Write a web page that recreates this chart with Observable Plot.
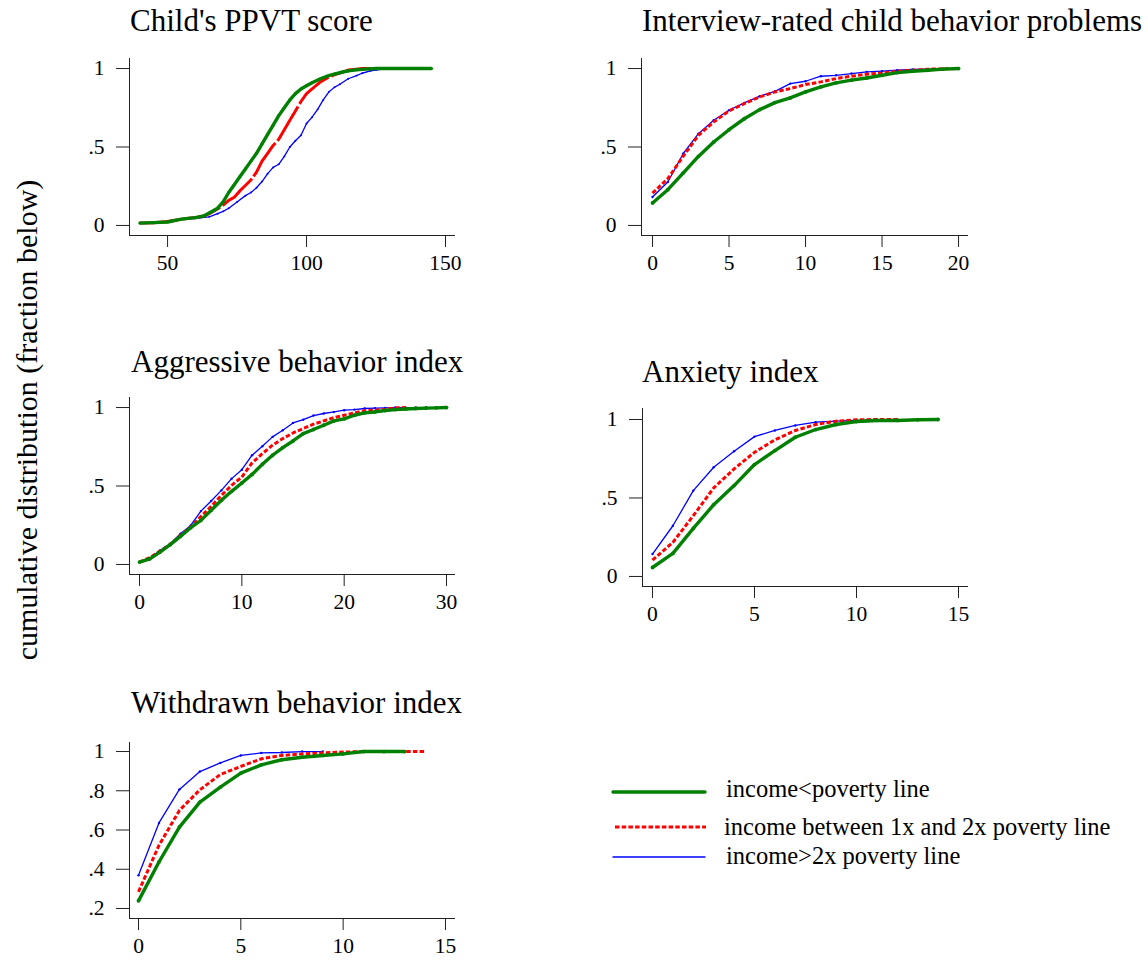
<!DOCTYPE html>
<html>
<head>
<meta charset="utf-8">
<script src="https://cdn.jsdelivr.net/npm/d3@7"></script>
<script src="https://cdn.jsdelivr.net/npm/@observablehq/plot@0.6"></script>
<style>
  html, body { margin: 0; padding: 0; background: #fff; }
  #root { position: relative; width: 1148px; height: 960px; overflow: hidden; background: #fff;
          font-family: "Liberation Serif", "Times New Roman", serif; }
  .panel { position: absolute; }
  .panel svg { overflow: visible; background: transparent; }
  #overlay { position: absolute; left: 0; top: 0; }
</style>
</head>
<body>
<div id="root"></div>
<script>
// ---------------- DATA ----------------
const seriesNames = ["income<poverty line", "income between 1x and 2x poverty line", "income>2x poverty line"];

// Child's PPVT score
const ppvtPoorX = [40,45,50,55,60,63,65,68,70,72,74,76,78,80,82,84,86,88,90,92,94,96,98,100,102,105,108,110,113,115,118,120,125,130,135,140,145];
const ppvtPoorY = [.015,.018,.022,.04,.05,.06,.08,.11,.15,.21,.26,.31,.36,.41,.46,.52,.58,.64,.70,.75,.80,.84,.87,.89,.91,.935,.955,.965,.978,.985,.992,.995,1,1,1,1,1];
const ppvtMidX = [40,45,50,55,60,63,65,68,70,72,74,76,78,80,82,84,86,88,90,92,94,96,98,100,102,105,108,110,113,115,118,120,125,130];
const ppvtMidY = [.015,.018,.025,.04,.05,.06,.075,.105,.13,.16,.18,.22,.255,.29,.34,.41,.46,.51,.55,.61,.67,.73,.79,.84,.87,.915,.945,.96,.977,.99,.996,1,1,1];
const ppvtHighX = [45,50,55,60,65,68,70,72,75,78,80,82,84,86,88,90,92,94,96,98,100,102,104,106,108,110,112,115,118,120,123,125,128,130,133];
const ppvtHighY = [.02,.025,.04,.045,.055,.075,.09,.11,.15,.19,.21,.24,.28,.33,.37,.39,.44,.50,.54,.575,.65,.69,.74,.80,.85,.88,.90,.935,.955,.97,.985,.99,.998,1,1];

// Interview-rated child behavior problems
const probX = [0,1,2,3,4,5,6,7,8,9,10,11,12,13,14,15,16,17,18,19,20];
const probPoorY = [.143,.228,.334,.44,.532,.61,.68,.738,.783,.813,.851,.883,.909,.926,.94,.957,.974,.983,.989,.996,1];
const probMidY  = [.206,.298,.44,.574,.66,.73,.777,.819,.851,.872,.898,.915,.936,.951,.964,.972,.983,.989,.996,.998,1];
const probHighY = [.181,.277,.457,.585,.67,.734,.781,.823,.855,.904,.919,.951,.957,.968,.979,.983,.989,.994,.996,.998,1];

// Aggressive behavior index
const aggPoorX = [0,1,2,3,4,5,6,7,8,9,10,11,12,13,14,15,16,17,18,19,20,21,22,23,24,25,26,27,28,29,30];
const aggPoorY = [.015,.036,.079,.126,.179,.234,.281,.345,.409,.466,.519,.574,.638,.696,.745,.787,.834,.86,.887,.915,.928,.951,.966,.972,.981,.987,.991,.994,.996,.998,1];
const aggMidX = [0,1,2,3,4,5,6,7,8,9,10,11,12,13,14,15,16,17,18,19,20,21,22,23,24,25,26];
const aggMidY = [.015,.043,.085,.128,.185,.238,.306,.37,.44,.504,.557,.647,.706,.76,.802,.838,.866,.894,.915,.936,.951,.966,.979,.983,.989,.998,1];
const aggHighX = [0,1,2,3,4,5,6,7,8,9,10,11,12,13,14,15,16,17,18,19,20,21,22,23,24,25,26,27,28];
const aggHighY = [.015,.04,.089,.132,.196,.249,.34,.404,.472,.547,.604,.696,.753,.813,.855,.902,.923,.949,.962,.972,.983,.987,.994,.996,.998,1,1,1,1];

// Anxiety index
const anxPoorX = [0,1,2,3,4,5,6,7,8,9,10,11,12,13,14];
const anxPoorY = [.057,.147,.306,.457,.579,.713,.802,.887,.936,.968,.987,.994,.994,.998,1];
const anxMidX = [0,1,2,3,4,5,6,7,8,9,10,11,12];
const anxMidY = [.104,.217,.387,.564,.685,.791,.87,.93,.968,.989,.998,1,1];
const anxHighX = [0,1,2,3,4,5,6,7,8,9,10,11,12];
const anxHighY = [.143,.323,.547,.696,.798,.891,.93,.962,.983,.989,.994,.998,1];

// Withdrawn behavior index
const wdPoorX = [0,1,2,3,4,5,6,7,8,9,10,11,12,13];
const wdPoorY = [.239,.437,.615,.742,.819,.89,.932,.958,.971,.98,.988,1,1,1];
const wdMidX = [0,1,2,3,4,5,6,7,8,9,10,11,12,13,14];
const wdMidY = [.285,.522,.70,.805,.883,.924,.963,.98,.988,.993,.997,1,1,1,1];
const wdHighX = [0,1,2,3,4,5,6,7,8,9];
const wdHighY = [.369,.636,.807,.898,.942,.98,.993,.995,1,1];

// tick labels
const ppvtXTicks = [50,100,150];
const probXTicks = [0,5,10,15,20];
const aggXTicks = [0,10,20,30];
const anxXTicks = [0,5,10,15];
const wdXTicks = [0,5,10,15];
const yTicks01 = [0,.5,1];
const yTicksWd = [.2,.4,.6,.8,1];

// ---------------- STYLES / LAYOUT ----------------
const styles = {
  poor: {stroke: "#008000", strokeWidth: 3.4, dash: null, r: 1.9},
  mid:  {stroke: "#ff0000", strokeWidth: 3, dash: "4.5,2.2", r: 0},
  high: {stroke: "#0000ff", strokeWidth: 1.3, dash: null, r: 1.2}
};

const panels = [
  {title: "Child's PPVT score", tx: 130, ty: 31,
   frame: {left: 129, top: 58, width: 326, height: 177},
   xd: [36.3, 153.6], yd: [-0.064, 1.064], xt: ppvtXTicks, yt: yTicks01, midDash: "40,3",
   series: {poor: [ppvtPoorX, ppvtPoorY], mid: [ppvtMidX, ppvtMidY], high: [ppvtHighX, ppvtHighY]}, dotR: 0.8},
  {title: "Interview-rated child behavior problems", tx: 642, ty: 31,
   frame: {left: 641, top: 58, width: 327, height: 177},
   xd: [-0.72, 20.65], yd: [-0.064, 1.064], xt: probXTicks, yt: yTicks01,
   series: {poor: [probX, probPoorY], mid: [probX, probMidY], high: [probX, probHighY]}},
  {title: "Aggressive behavior index", tx: 131, ty: 372,
   frame: {left: 129, top: 397, width: 326, height: 177},
   xd: [-0.98, 30.88], yd: [-0.064, 1.064], xt: aggXTicks, yt: yTicks01,
   series: {poor: [aggPoorX, aggPoorY], mid: [aggMidX, aggMidY], high: [aggHighX, aggHighY]}},
  {title: "Anxiety index", tx: 642, ty: 382,
   frame: {left: 642, top: 408, width: 326, height: 178},
   xd: [-0.49, 15.49], yd: [-0.064, 1.07], xt: anxXTicks, yt: yTicks01,
   series: {poor: [anxPoorX, anxPoorY], mid: [anxMidX, anxMidY], high: [anxHighX, anxHighY]}},
  {title: "Withdrawn behavior index", tx: 131, ty: 713,
   frame: {left: 129, top: 742, width: 326, height: 176},
   xd: [-0.44, 15.49], yd: [0.149, 1.046], xt: wdXTicks, yt: yTicksWd,
   series: {poor: [wdPoorX, wdPoorY], mid: [wdMidX, wdMidY], high: [wdHighX, wdHighY]}}
];

const fmtY = d => d === 0 ? "0" : d === 1 ? "1" : String(d).replace(/^0/, "");
const M = {l: 70, r: 20, t: 12, b: 50};
const FONT = "'Liberation Serif', 'Times New Roman', serif";
const root = document.getElementById("root");

for (const p of panels) {
  const marks = [
    Plot.ruleX([p.xd[0]], {stroke: "#222", strokeWidth: 1}),
    Plot.ruleY([p.yd[0]], {stroke: "#222", strokeWidth: 1}),
    Plot.axisX({ticks: p.xt, tickSize: 12, tickPadding: 7, tickFormat: d => String(d), label: null, stroke: "#222"}),
    Plot.axisY({ticks: p.yt, tickSize: 13, tickPadding: 12, tickFormat: fmtY, label: null, stroke: "#222"})
  ];
  for (const key of ["high", "mid", "poor"]) {
    const [xs, ys] = p.series[key];
    const rows = xs.map((x, i) => ({x, y: ys[i]}));
    const s = styles[key];
    const dash = key === "mid" && p.midDash ? p.midDash : s.dash;
    marks.push(Plot.line(rows, {x: "x", y: "y", stroke: s.stroke, strokeWidth: s.strokeWidth,
      strokeDasharray: dash, strokeLinejoin: "round", strokeLinecap: "butt"}));
    if (s.r > 0) {
      marks.push(Plot.dot(rows, {x: "x", y: "y", r: p.dotR ? s.r * p.dotR : s.r, fill: s.stroke, stroke: null}));
    }
  }
  const chart = Plot.plot({
    width: p.frame.width + M.l + M.r,
    height: p.frame.height + M.t + M.b,
    marginLeft: M.l, marginRight: M.r, marginTop: M.t, marginBottom: M.b,
    x: {domain: p.xd, label: null},
    y: {domain: p.yd, label: null},
    style: {fontFamily: FONT, fontSize: "21.5px", color: "#000", background: "transparent", overflow: "visible"},
    marks
  });
  const div = document.createElement("div");
  div.className = "panel";
  div.style.left = (p.frame.left - M.l) + "px";
  div.style.top = (p.frame.top - M.t) + "px";
  div.appendChild(chart);
  root.appendChild(div);
}

// ---------------- TITLES, Y LABEL, LEGEND ----------------
const svg = d3.select(root).append("svg").attr("id", "overlay")
  .attr("width", 1148).attr("height", 960)
  .style("font-family", FONT).style("pointer-events", "none");

for (const p of panels) {
  svg.append("text").attr("x", p.tx).attr("y", p.ty).attr("font-size", 31).attr("fill", "#000").text(p.title);
}

svg.append("text").attr("transform", "translate(37,420) rotate(-90)")
  .attr("text-anchor", "middle").attr("font-size", 30).attr("fill", "#000")
  .text("cumulative distribution (fraction below)");

const legendRows = [
  {key: "poor", x1: 613, x2: 705, y: 792, tx: 726, ty: 797},
  {key: "mid",  x1: 615, x2: 706, y: 827, tx: 724, ty: 835},
  {key: "high", x1: 613, x2: 705, y: 857, tx: 726, ty: 864}
];
legendRows.forEach((r, i) => {
  const s = styles[r.key];
  svg.append("line").attr("x1", r.x1).attr("x2", r.x2).attr("y1", r.y).attr("y2", r.y)
    .attr("stroke", s.stroke).attr("stroke-width", s.strokeWidth)
    .attr("stroke-dasharray", s.dash).attr("stroke-linecap", r.key === "mid" ? "butt" : "round");
  svg.append("text").attr("x", r.tx).attr("y", r.ty).attr("font-size", 24.5).attr("fill", "#000").text(seriesNames[i]);
});
</script>
</body>
</html>
